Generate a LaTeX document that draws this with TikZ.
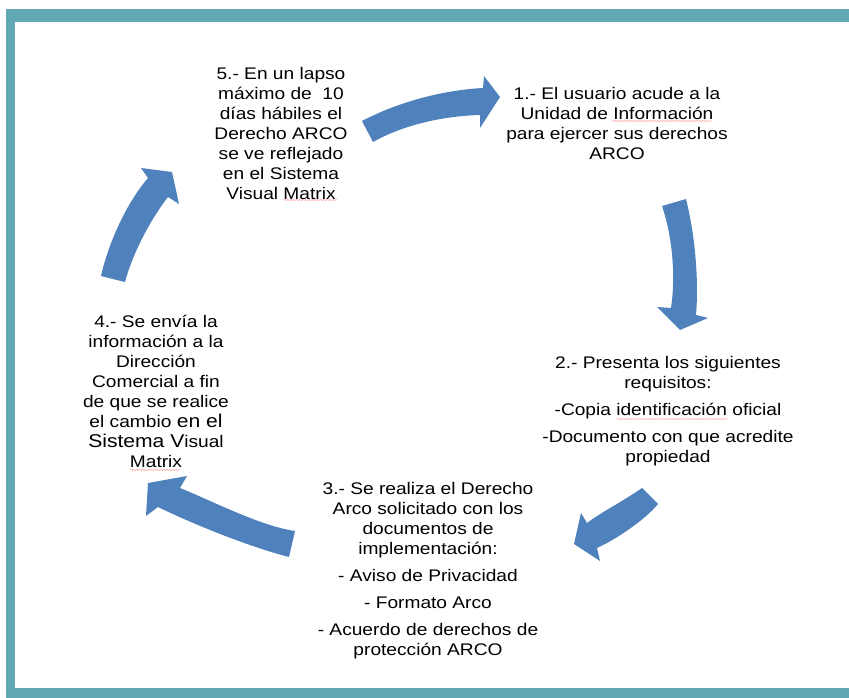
\documentclass[tikz,border=0pt]{standalone}
\usepackage{fontspec}
\setmainfont{Liberation Sans}[FakeStretch=1.14]
\usepackage{tikz}
\usetikzlibrary{decorations.pathmorphing}

\definecolor{marco}{RGB}{98,168,180}
\definecolor{azul}{RGB}{79,129,189}
\newcommand\grande{\fontsize{18.5}{20}\selectfont}

\begin{document}
\begin{tikzpicture}[x=1pt,y=-1pt,
                    every node/.style={align=center,inner sep=0pt,
                    font=\fontsize{16.8}{20}\selectfont}]
  \tikzstyle{flecha}=[fill=azul,draw=none]
  \tikzstyle{onda}=[draw=red!40,line width=0.4pt,decorate,
                    decoration={snake,amplitude=0.6pt,segment length=3pt}]
  \useasboundingbox (0,0) rectangle (849,698);

  % marco
  \fill[marco] (6,9) rectangle (849,698);
  \fill[white] (15,22) rectangle (849,688);

  \node (P1) at (617,123) {1.- El usuario acude a la\\Unidad de Información\\para ejercer sus derechos\\ARCO};
  \node (P2) at (668,411) {2.- Presenta los siguientes\\requisitos:\\[7pt]-Copia identificación oficial\\[7pt]-Documento con que acredite\\propiedad};
  \node (P3) at (428,571) {3.- Se realiza el Derecho\\Arco solicitado con los\\documentos de\\implementación:\\[7pt]- Aviso de Privacidad\\[7pt]- Formato Arco\\[7pt]- Acuerdo de derechos de\\protección ARCO};
  \node (P4) at (156,391) {4.- Se envía la\\información a la\\Dirección\\Comercial a fin\\de que se realice\\el cambio {\grande en el}\\{\grande Sistema V}isual\\Matrix};
  \node (P5) at (281,133) {5.- En un lapso\\máximo de~ 10\\días hábiles el\\Derecho ARCO\\se ve reflejado\\en el Sistema\\Visual Matrix};

  % subrayado del corrector
  \draw[onda] (612,121) -- (712,121);
  \draw[onda] (617,419) -- (728,419);
  \draw[onda] (284,200) -- (337,200);
  \draw[onda] (130,470) -- (181,470);

  % flechas del ciclo
  \fill[flecha] (362,121) .. controls (400,101) and (445,90) .. (483,88) -- (484,76) -- (500,97)
     -- (480,128) -- (480,115) .. controls (445,116) and (405,124) .. (373,142) -- cycle;
  \fill[flecha] (662,206) .. controls (672,235) and (676,275) .. (671,308) -- (657,307) -- (680,330)
     -- (708,318) -- (696,315) .. controls (699,280) and (695,235) .. (686,199) -- cycle;
  \fill[flecha] (642,488) .. controls (625,500) and (600,513) .. (587,523) -- (581,513) -- (574,544)
     -- (600,561) -- (597,548) .. controls (615,540) and (645,520) .. (658,504) -- cycle;
  \fill[flecha] (295,531) .. controls (260,526) and (210,500) .. (180,488) -- (187,476) -- (148,483)
     -- (146,516) -- (158,507) .. controls (195,525) and (250,547) .. (289,557) -- cycle;
  \fill[flecha] (101,276) .. controls (108,245) and (125,205) .. (148,178) -- (141,168) -- (172,172)
     -- (179,204) -- (168,197) .. controls (150,220) and (132,255) .. (125,282) -- cycle;
\end{tikzpicture}
\end{document}
